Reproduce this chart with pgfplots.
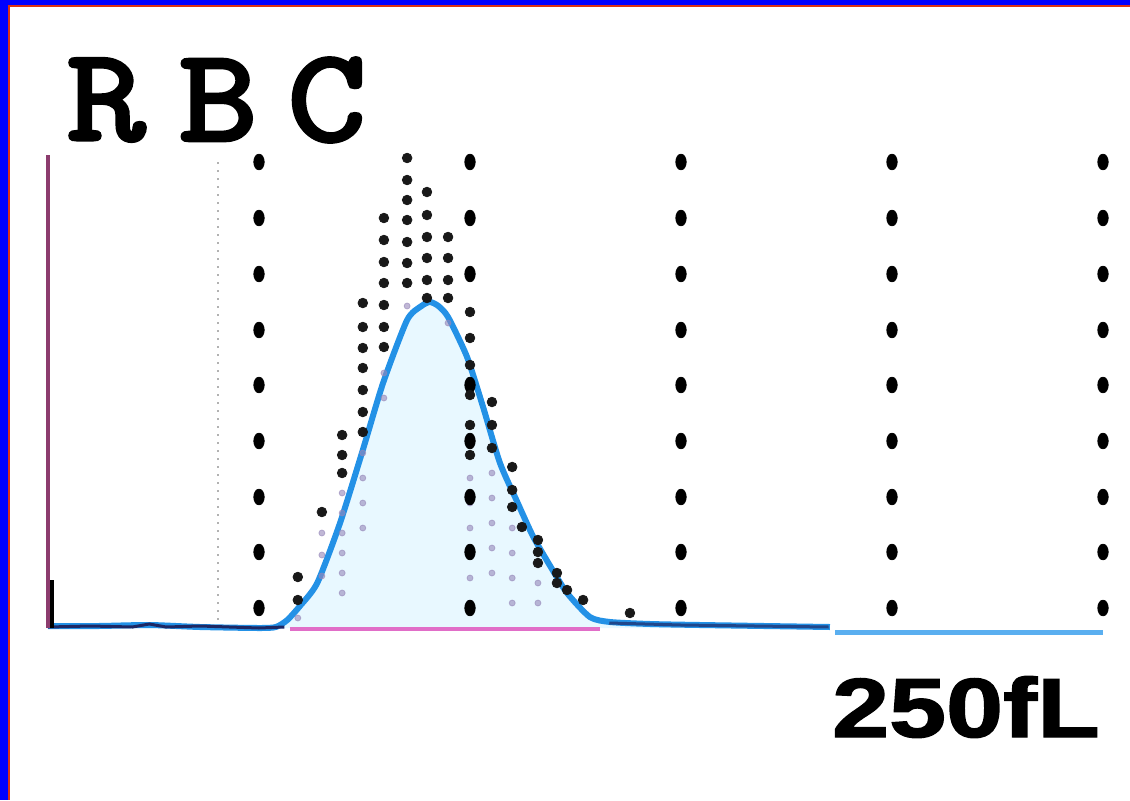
\documentclass[border=0pt]{standalone}
\usepackage{pgfplots}
\pgfplotsset{compat=1.18}
\usepackage{pgfplotstable}
\usepackage{fontspec}
\newfontfamily\courfont{Latin Modern Mono}[FakeBold=3]
\newfontfamily\sansfont{Liberation Sans}[BoldFeatures={FakeBold=1.5}]
\definecolor{frameblue}{RGB}{0,0,255}
\definecolor{framered}{RGB}{220,50,20}
\definecolor{curveblue}{RGB}{35,145,230}
\definecolor{tailblue}{RGB}{90,175,240}
\definecolor{axispurple}{RGB}{140,60,110}
\definecolor{basepink}{RGB}{225,110,200}
\definecolor{navyline}{RGB}{30,40,100}
\definecolor{fadedot}{RGB}{150,135,185}
\definecolor{fillcyan}{RGB}{232,248,255}

% RBC volume distribution curve (fL, relative count)
\pgfplotstableread{
x y
0 2
12 2
24 3
36 1
50 0
54 1
56.7 8
59.7 22
63.8 45
69.2 105
74.6 178
79.4 245
85.1 308
88.5 322
90.5 326
92.5 322
94.8 311
99.3 271
103.1 221
107.1 165
111.1 127
114.9 92
119.0 62
123.0 35
128.4 11
133.2 6
142.7 4
154.5 3
185.3 1
}\curve

% dot-matrix histogram (dark dots)
\pgfplotstableread{
x y
59.2 51
59.2 28
64.9 116
69.7 193
69.7 173
69.7 155
74.6 325
74.6 301
74.6 280
74.6 260
74.6 238
74.6 216
74.6 196
79.6 410
79.6 388
79.6 366
79.6 345
79.6 323
79.6 301
79.6 281
85.1 470
85.1 448
85.1 428
85.1 408
85.1 386
85.1 365
85.1 345
89.8 436
89.8 413
89.8 391
89.8 370
89.8 348
89.8 330
94.8 391
94.8 370
94.8 348
94.8 330
100.0 316
100.0 290
100.0 263
100.0 233
100.0 203
100.0 173
105.2 226
105.2 203
105.2 180
110.0 161
110.0 138
110.0 121
112.3 101
116.1 88
116.1 76
116.1 65
120.6 55
120.6 45
123.0 38
126.8 28
137.9 15
}\histdark

% faded dots beneath the curve
\pgfplotstableread{
x y
64.9 95
64.9 73
64.9 52
69.7 135
69.7 115
69.7 95
69.7 75
69.7 55
69.7 35
74.6 175
74.6 150
74.6 125
74.6 100
79.6 255
79.6 230
85.1 322
94.8 305
100.0 150
100.0 125
100.0 100
100.0 75
100.0 50
100.0 25
105.2 155
105.2 130
105.2 105
105.2 80
105.2 55
110.0 100
110.0 75
110.0 50
110.0 25
116.1 45
116.1 25
59.2 10
}\histfade

% dotted 50 fL grid
\pgfplotstableread{
x y
50 20
50 76
50 131
50 187
50 243
50 298
50 354
50 410
50 466
100 20
100 76
100 131
100 187
100 243
100 354
100 410
100 466
150 20
150 76
150 131
150 187
150 243
150 298
150 354
150 410
150 466
200 20
200 76
200 131
200 187
200 243
200 298
200 354
200 410
200 466
250 20
250 76
250 131
250 187
250 243
250 298
250 354
250 410
250 466
}\gridpts

\begin{document}
\begin{tikzpicture}
\begin{axis}[scale only axis,
  width=527.5pt, height=236.5pt,
  xmin=0, xmax=250, ymin=0, ymax=473,
  hide axis, clip=false]
  % faint fill under the curve
  \addplot[fill=fillcyan, draw=none] table[x=x,y=y] {\curve} \closedcycle;
  % faint guide at 40 fL
  \addplot[gray!60, line width=0.8pt, dash pattern=on 1pt off 3pt] coordinates {(40.3,0) (40.3,470)};
  % faded dots
  \addplot[only marks, mark=*, mark size=1.5pt, color=fadedot, opacity=0.6] table[x=x,y=y] {\histfade};
  % grid dots
  \addplot[only marks, mark=*, mark size=2.6pt, color=black,
    mark options={yscale=1.5}] table[x=x,y=y] {\gridpts};
  % pink baseline
  \addplot[basepink, line width=1.8pt] coordinates {(57.3,-1) (130.8,-1)};
  % curve
  \addplot[curveblue, line width=3pt, smooth, tension=0.4] table[x=x,y=y] {\curve};
  \addplot[tailblue, line width=2.5pt] coordinates {(186.5,-4) (250,-4)};
  \addplot[navyline, line width=1.5pt] coordinates {(0,1) (10,2) (20,1) (24,4) (28,1) (36,2) (50,0) (56,1)};
  \addplot[navyline!70!curveblue, line width=1.5pt] coordinates {(133,5) (150,3) (185,1)};
  % dark histogram dots
  \addplot[only marks, mark=*, mark size=2.4pt, color=black!90] table[x=x,y=y] {\histdark};
  % left spike and axis
  \addplot[black, line width=2pt] coordinates {(1.0,0) (1.0,48)};
  \addplot[axispurple, line width=2pt] coordinates {(0,0) (0,473)};
  \coordinate (O) at (axis cs:0,0);
\end{axis}
\begin{scope}[shift={(O)}, xshift=-24pt, yshift=-86pt]
  \fill[frameblue] (0pt,0pt) rectangle (4pt,400pt);
  \fill[frameblue] (0pt,397.5pt) rectangle (565pt,400pt);
  \fill[framered] (4pt,0pt) rectangle (5pt,397.5pt);
  \fill[framered] (4pt,396.5pt) rectangle (565pt,397.5pt);
  \node[font=\courfont\fontsize{66}{66}\selectfont, xscale=1.15] at (53pt,350pt) {R};
  \node[font=\courfont\fontsize{66}{66}\selectfont, xscale=1.15] at (109pt,350pt) {B};
  \node[font=\courfont\fontsize{66}{66}\selectfont, xscale=1.15] at (163.5pt,350pt) {C};
  \node[font=\sansfont\bfseries\fontsize{42}{42}\selectfont, xscale=1.22] at (483pt,46.5pt) {250fL};
  \pgfresetboundingbox
  \path[use as bounding box] (0pt,0pt) rectangle (565pt,400pt);
\end{scope}
\end{tikzpicture}
\end{document}
